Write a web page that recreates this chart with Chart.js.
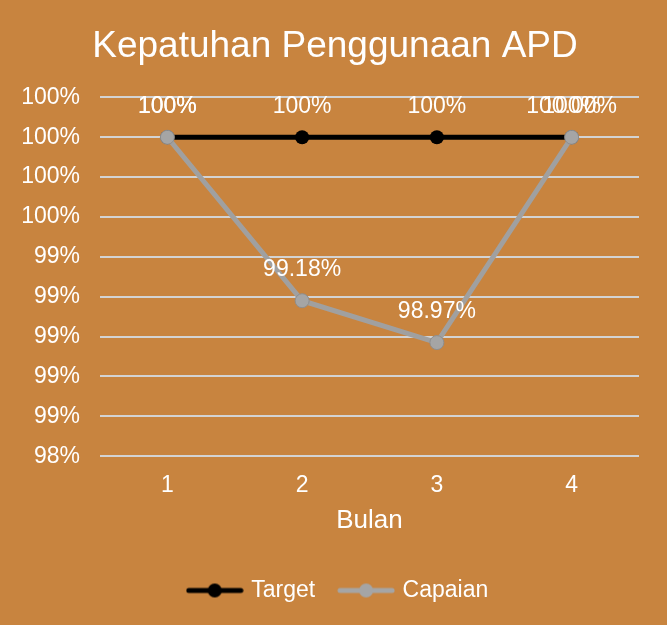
<!DOCTYPE html>
<html>
<head>
<meta charset="utf-8">
<script src="https://cdn.jsdelivr.net/npm/chart.js@4/dist/chart.umd.min.js"></script>
<style>
html,body{margin:0;padding:0;background:#C8843F;}
canvas{display:block;}
</style>
</head>
<body>
<canvas id="c" width="667" height="625"></canvas>
<script>
const categories = ["1", "2", "3", "4"];
const targetValues = [100, 100, 100, 100];
const capaianValues = [100, 99.18, 98.97, 100];
const targetLabels = ["100%", "100%", "100%", "100%"];
const capaianLabels = ["100%", "99.18%", "98.97%", "100.00%"];
const yMin = 98.4, yMax = 100.2, yStep = 0.2;

const FONT = "'Liberation Sans', Arial, sans-serif";
const BG = "#C8843F";
const TARGET_COLOR = "#000000";
const CAPAIAN_COLOR = "#A5A5A5";

function legendIcon(color) {
  const cv = document.createElement('canvas');
  cv.width = 58; cv.height = 16;
  const g = cv.getContext('2d');
  g.strokeStyle = color; g.lineWidth = 5; g.lineCap = 'round';
  g.beginPath(); g.moveTo(3, 8); g.lineTo(55, 8); g.stroke();
  g.fillStyle = color; g.beginPath(); g.arc(29, 8, 7, 0, Math.PI * 2); g.fill();
  return cv;
}

const bgPlugin = {
  id: 'bg',
  beforeDraw(chart) {
    const ctx = chart.ctx;
    ctx.save(); ctx.fillStyle = BG; ctx.fillRect(0, 0, chart.width, chart.height); ctx.restore();
  }
};

const shiftPlugin = {
  id: 'shiftBoxes',
  afterLayout(chart) {
    const t = chart.titleBlock;
    if (t) { t.left += 5; t.right += 5; }
    const l = chart.legend;
    if (l) { l.left += 9; l.right += 9; }
  }
};

const labelPlugin = {
  id: 'valLabels',
  afterDatasetsDraw(chart) {
    const ctx = chart.ctx;
    ctx.save();
    ctx.font = "23px " + FONT;
    ctx.fillStyle = "#FFFFFF";
    ctx.textAlign = 'center';
    ctx.textBaseline = 'middle';
    const sets = [targetLabels, capaianLabels];
    sets.forEach((labs, di) => {
      const meta = chart.getDatasetMeta(di);
      meta.data.forEach((pt, i) => {
        ctx.fillText(labs[i], pt.x, pt.y - 31);
      });
    });
    ctx.restore();
  }
};

new Chart(document.getElementById('c'), {
  type: 'line',
  data: {
    labels: categories,
    datasets: [
      {
        label: 'Target',
        data: targetValues,
        borderColor: TARGET_COLOR,
        backgroundColor: TARGET_COLOR,
        borderWidth: 5,
        pointRadius: 7,
        pointBackgroundColor: TARGET_COLOR,
        pointBorderColor: TARGET_COLOR,
        pointBorderWidth: 0,
        order: 2,
        tension: 0
      },
      {
        label: 'Capaian',
        data: capaianValues,
        borderColor: "#A0A0A0",
        backgroundColor: CAPAIAN_COLOR,
        borderWidth: 5,
        pointRadius: 7,
        pointBackgroundColor: CAPAIAN_COLOR,
        pointBorderColor: "#8E8E8E",
        pointBorderWidth: 1,
        order: 1,
        tension: 0
      }
    ]
  },
  options: {
    responsive: false,
    animation: false,
    layout: { padding: { left: 21, right: 28, top: 0, bottom: 13 } },
    plugins: {
      title: {
        display: true,
        text: 'Kepatuhan Penggunaan APD',
        color: '#FFFFFF',
        font: { family: FONT, size: 37, weight: 'normal' },
        padding: { top: 25, bottom: 28 }
      },
      legend: {
        position: 'bottom',
        labels: {
          color: '#FFFFFF',
          font: { family: FONT, size: 23 },
          usePointStyle: true,
          pointStyleWidth: 50,
          padding: 26,
          sort: (a, b) => a.datasetIndex - b.datasetIndex,
          generateLabels(chart) {
            return chart.data.datasets.map((ds, i) => ({
              text: ds.label,
              fontColor: '#FFFFFF',
              pointStyle: i === 0 ? legendIcon(TARGET_COLOR) : legendIcon(CAPAIAN_COLOR),
              datasetIndex: i,
              hidden: false,
              lineWidth: 0,
              strokeStyle: 'transparent',
              fillStyle: 'transparent'
            }));
          }
        }
      },
      tooltip: { enabled: false }
    },
    scales: {
      x: {
        offset: true,
        grid: { display: false, drawTicks: false },
        border: { display: false },
        ticks: { color: '#FFFFFF', font: { family: FONT, size: 23 }, padding: 16 },
        title: {
          display: true, text: 'Bulan', color: '#FFFFFF',
          font: { family: FONT, size: 26 }, padding: { top: -11, bottom: 17 }
        }
      },
      y: {
        min: yMin, max: yMax,
        grid: { color: '#D3D3D3', lineWidth: 2, drawTicks: false },
        border: { display: false },
        afterFit(scale) { scale.width = 79; },
        ticks: {
          stepSize: yStep,
          color: '#FFFFFF',
          font: { family: FONT, size: 23 },
          padding: 20,
          callback: (v) => Math.round(v) + '%'
        }
      }
    }
  },
  plugins: [bgPlugin, shiftPlugin, labelPlugin]
});
</script>
</body>
</html>
